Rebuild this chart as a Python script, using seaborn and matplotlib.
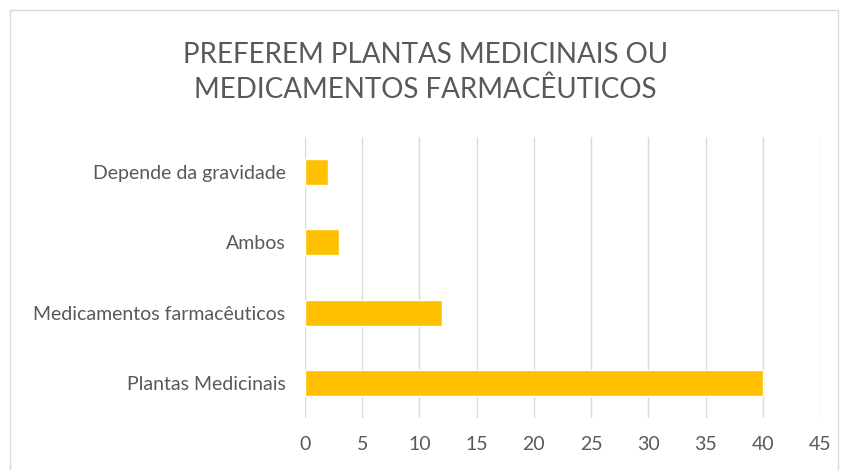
import matplotlib
matplotlib.use("Agg")
import matplotlib.pyplot as plt
import pandas as pd
import seaborn as sns
from matplotlib.patches import Rectangle

categories = ["Depende da gravidade", "Ambos", "Medicamentos farmacêuticos", "Plantas Medicinais"]
values = [2, 3, 12, 40]
x_ticks = [0, 5, 10, 15, 20, 25, 30, 35, 40, 45]
title = "PREFEREM PLANTAS MEDICINAIS OU\nMEDICAMENTOS FARMACÊUTICOS"

df = pd.DataFrame({"categoria": categories, "valor": values})

sns.set_style("white")
plt.rcParams["font.family"] = ["Lato", "DejaVu Sans"]

text_color = "#595959"
fig = plt.figure(figsize=(8.43, 4.70), dpi=100)
ax = fig.add_axes([0.3618, 0.1106, 0.611, 0.598])

sns.barplot(data=df, x="valor", y="categoria", order=categories, color="#FFC000",
            saturation=1, width=0.37, ax=ax)

ax.set_xlim(0, 45)
ax.set_xticks(x_ticks)
ax.set_ylim(3.5, -0.5)
ax.set_axisbelow(True)
ax.grid(axis="x", color="#D9D9D9", linewidth=1)
for s in ax.spines.values():
    s.set_visible(False)
ax.tick_params(axis="both", length=0, colors=text_color, labelsize=14)
ax.tick_params(axis="x", pad=13)
ax.tick_params(axis="y", pad=14)
ax.set_xlabel("")
ax.set_ylabel("")

fig.text(0.505, 0.845, title, ha="center", va="center", fontsize=20,
         color=text_color, linespacing=1.4)

# chart area border
fig.patches.append(Rectangle((10 / 843, -0.05), 828 / 843, 1.04 - 5 / 470,
                             transform=fig.transFigure, fill=False,
                             edgecolor="#D9D9D9", linewidth=1))

fig.savefig("out.png", dpi=100)
